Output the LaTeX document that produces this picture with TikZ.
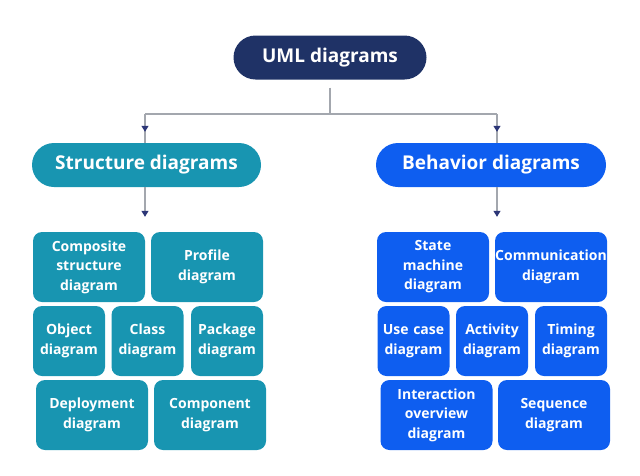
\documentclass[tikz,border=0pt]{standalone}
\usepackage{fontspec}
\setmainfont{Open Sans}
\usepackage{xcolor}
\usetikzlibrary{arrows.meta, positioning}
\definecolor{umlnavy}{HTML}{1F3266}
\definecolor{structteal}{HTML}{1895B1}
\definecolor{behavblue}{HTML}{0E5EF0}
\definecolor{linegray}{HTML}{A3A7AE}
\definecolor{tipnavy}{HTML}{2C3677}

\begin{document}
\begin{tikzpicture}[x=1pt,y=-1pt,
    every node/.style={text=white, align=center, inner sep=0pt},
    head/.style={rounded corners=22pt, minimum height=44pt,
        font=\fontsize{19}{23}\selectfont\bfseries},
    leaf/.style={rounded corners=9pt, minimum height=70pt,
        font=\fontsize{14}{19.5}\selectfont\bfseries},
    wide/.style={leaf, minimum width=112pt, text width=112pt},
    narrow/.style={leaf, minimum width=72pt, text width=72pt},
    link/.style={draw=linegray, line width=1.2pt},
    arr/.style={link, -{Triangle[width=7pt,length=6pt,color=tipnavy]}}]
    \useasboundingbox (0,0) rectangle (640,475);

    % top level
    \node[head, fill=umlnavy, minimum width=193pt] (uml) at (330,57.5) {UML diagrams};
    \node[head, fill=structteal, minimum width=229pt] (struct) at (146.5,165) {Structure diagrams};
    \node[head, fill=behavblue, minimum width=230pt] (behav) at (491,165) {Behavior diagrams};

    % structure diagrams
    \node[wide, fill=structteal] (comp) at (89,267) {Composite\\structure\\diagram};
    \node[wide, fill=structteal] (prof) at (207,267) {Profile\\diagram};
    \node[narrow, fill=structteal] (obj) at (69,341) {Object\\diagram};
    \node[narrow, fill=structteal] (cls) at (147.5,341) {Class\\diagram};
    \node[narrow, fill=structteal] (pkg) at (227,341) {Package\\diagram};
    \node[wide, fill=structteal] (depl) at (92,415) {Deployment\\diagram};
    \node[wide, fill=structteal] (cmpn) at (210,415) {Component\\diagram};

    % behavior diagrams
    \node[wide, fill=behavblue] (state) at (433,267) {State\\machine\\diagram};
    \node[wide, fill=behavblue] (comm) at (551,267) {Communication\\diagram};
    \node[narrow, fill=behavblue] (usec) at (413.5,341) {Use case\\diagram};
    \node[narrow, fill=behavblue] (act) at (492,341) {Activity\\diagram};
    \node[narrow, fill=behavblue] (tim) at (571,341) {Timing\\diagram};
    \node[wide, fill=behavblue] (inter) at (436.5,415) {Interaction\\overview\\diagram};
    \node[wide, fill=behavblue] (seq) at (554,415) {Sequence\\diagram};

    % connectors
    \coordinate (trunk) at ([yshift=-8pt]uml.south);
    \coordinate (hl) at (145,114);
    \coordinate (hr) at (497,114);
    \draw[link] (trunk) -- (trunk |- hl);
    \draw[link] (hl) -- (hr);
    \draw[link] (hl) -- (hl |- struct.north);
    \draw[link] (hr) -- (hr |- behav.north);
    \draw[arr] (hl) -- ([yshift=11pt]hl |- struct.north);
    \draw[arr] (hr) -- ([yshift=11pt]hr |- behav.north);
    \draw[arr, shorten >=15pt] (hl |- struct.south) -- (hl |- comp.north);
    \draw[arr, shorten >=15pt] (hr |- behav.south) -- (hr |- state.north);
\end{tikzpicture}
\end{document}
